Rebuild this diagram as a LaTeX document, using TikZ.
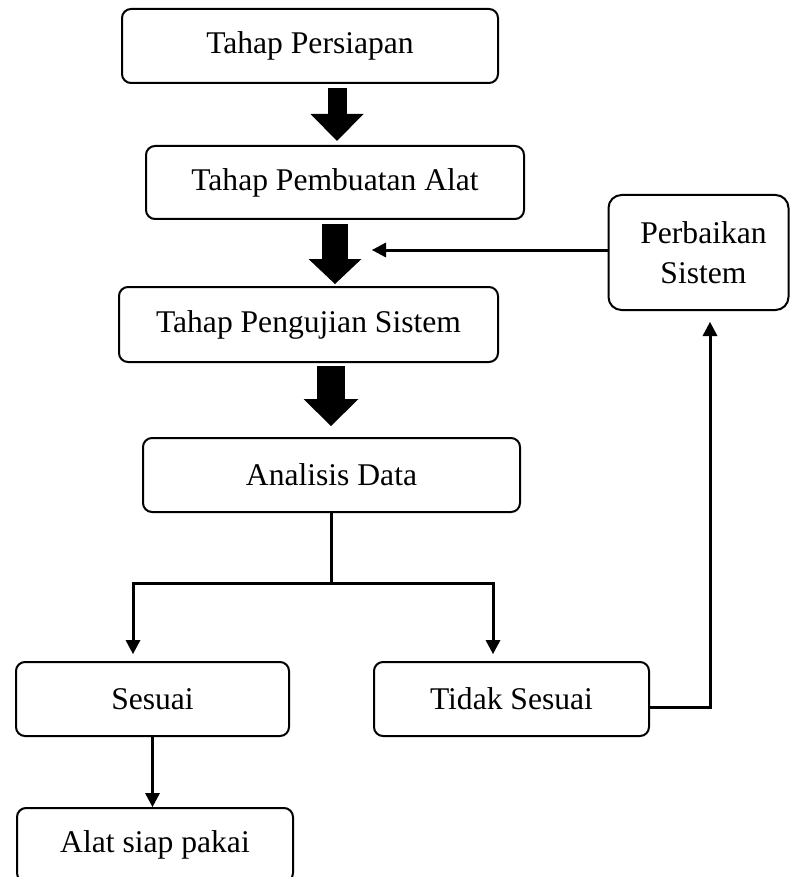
\documentclass[tikz,border=0pt]{standalone}
\usepackage{fontspec}
\setmainfont{Liberation Serif}
\usetikzlibrary{arrows.meta,calc}
\begin{document}
\begin{tikzpicture}[x=0.5pt,y=-0.5pt,
  box/.style={draw, line width=1pt, rounded corners=4.5pt, inner sep=0pt, align=center,
    font=\fontsize{15.8}{20}\selectfont},
  conn/.style={line width=1.5pt},
  tipend/.style={-{Triangle[length=7pt,width=7.5pt,line width=0pt]}},
  blockarrow/.style n args={3}{line width=#1, -{Triangle[length=#3,width=#2,line width=0pt]}}
]
\clip (0,0) rectangle (791,877);
\fill[white] (0,0) rectangle (791,877);

% boxes
\node[box, minimum width=188pt, minimum height=37pt] (persiapan) at (310,46) {Tahap Persiapan};
\node[box, minimum width=189pt, minimum height=36.5pt] (pembuatan) at (335,182.5) {Tahap Pembuatan Alat};
\node[box, minimum width=189.5pt, minimum height=37.5pt] (pengujian) at (308.5,324.5) {Tahap Pengujian Sistem};
\node[box, minimum width=188.5pt, minimum height=37pt] (analisis) at (331.5,475) {Analisis Data};
\node[box, minimum width=90pt, minimum height=57.5pt, rounded corners=6.5pt] (perbaikan) at (698.5,252.5) {\hspace*{5pt}Perbaikan\\\hspace*{5pt}Sistem};
\node[box, minimum width=136.5pt, minimum height=37pt] (sesuai) at (152.5,699) {Sesuai};
\node[box, minimum width=137.5pt, minimum height=37pt] (tidak) at (511.5,699) {Tidak Sesuai};
\node[box, minimum width=138pt, minimum height=37pt] (alat) at (155,845) {Alat siap pakai};

% block arrows
\coordinate (a1) at (337,0);
\coordinate (a2) at (335,0);
\coordinate (a3) at (331,0);
\draw[blockarrow={9.5pt}{26.5pt}{13.5pt}, shorten <=2pt, shorten >=2pt]
  (persiapan.south -| a1) -- (pembuatan.north -| a1);
\draw[blockarrow={13pt}{26.5pt}{12.5pt}, shorten <=2pt, shorten >=1pt]
  (pembuatan.south -| a2) -- (pengujian.north -| a2);
\draw[blockarrow={14pt}{27.5pt}{13.5pt}, shorten <=1.5pt, shorten >=5.5pt]
  (pengujian.south -| a3) -- (analisis.north -| a3);

% feedback arrow
\coordinate (fb) at (372,250);
\draw[conn, tipend] (perbaikan.west |- fb) -- (fb);

% split from Analisis Data
\coordinate (jl) at (133,583);
\coordinate (jr) at (493,583);
\draw[conn] (analisis.south) -- (analisis.south |- jl);
\draw[conn, {Triangle[length=7pt,width=7.5pt,line width=0pt]}-{Triangle[length=7pt,width=7.5pt,line width=0pt]},
  shorten <=3.5pt, shorten >=3.5pt, line join=miter]
  (jl |- sesuai.north) -- (jl) -- (jr) -- (jr |- tidak.north);

% Sesuai -> Alat
\draw[conn, tipend] (sesuai.south) -- (sesuai.south |- alat.north);

% Tidak Sesuai -> Perbaikan
\coordinate (rt) at (710,707);
\draw[conn, tipend, shorten >=5.5pt, line join=miter]
  (tidak.east |- rt) -- (rt) -- (rt |- perbaikan.south);
\end{tikzpicture}
\end{document}
